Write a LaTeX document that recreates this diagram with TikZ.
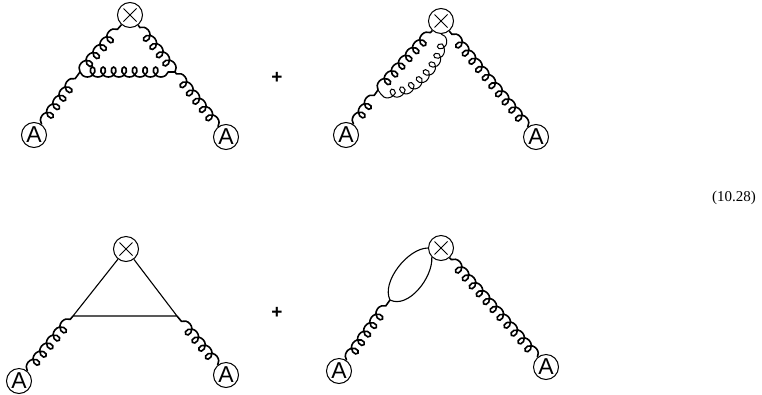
\documentclass[tikz,border=0pt]{standalone}
\usepackage{fontspec}
\setmainfont{Liberation Serif}
\newfontfamily\labelsans{Liberation Sans}
\usetikzlibrary{decorations.pathmorphing,calc}
\tikzset{
  px/.style={x=1pt,y=-1pt},
  xvertex/.style={circle,draw,line width=1pt,fill=white,minimum size=25pt,inner sep=0pt,
    path picture={\draw[line width=0.8pt]
      ($(path picture bounding box.center)+(-6.5pt,-6.5pt)$)--($(path picture bounding box.center)+(6.5pt,6.5pt)$)
      ($(path picture bounding box.center)+(-6.5pt,6.5pt)$)--($(path picture bounding box.center)+(6.5pt,-6.5pt)$);}},
  avertex/.style={circle,draw,line width=1pt,fill=white,minimum size=25pt,inner sep=0pt,font=\labelsans\fontsize{23}{23}\selectfont},
  gluon/.style={line width=1.6pt,decorate,decoration={coil,aspect=0.95,segment length=10.5pt,amplitude=5pt}},
  gluonm/.style={line width=1.6pt,decorate,decoration={coil,aspect=0.95,segment length=10.5pt,amplitude=5pt,mirror}},
  gluonthin/.style={line width=1pt,decorate,decoration={coil,aspect=0.95,segment length=10pt,amplitude=5pt}},
  prop/.style={line width=1.1pt},
  plus/.style={font=\labelsans\bfseries\fontsize{19}{19}\selectfont},
  eqno/.style={font=\fontsize{15}{15}\selectfont}
}
\begin{document}
\begin{tikzpicture}[px]
\useasboundingbox (0,0) rectangle (762,394);
% diagram 1
\coordinate (j1) at (80,72);
\coordinate (j2) at (175,72);
\node[xvertex] (x1) at (130,15) {};
\node[avertex] (a1) at (34,135) {A};
\node[avertex] (b1) at (226,137) {A};
\draw[gluon] (a1) -- (j1);
\draw[gluon] (j1) -- (x1);
\draw[gluonm] (b1) -- (j2);
\draw[gluonm] (j2) -- (x1);
\draw[gluonm] (j1) -- (j2);
% diagram 2
\coordinate (j3) at (378,90);
\node[xvertex] (x2) at (441,21) {};
\node[avertex] (a2) at (346,135) {A};
\node[avertex] (b2) at (536,137) {A};
\draw[gluon] (a2) -- (j3);
\draw[gluon] (j3) -- (x2);
\draw[gluonm] (b2) -- (x2);
\draw[gluonthin] (x2.south) .. controls (444,62) and (410,102) .. (j3);
% diagram 3
\coordinate (j4) at (73,316);
\coordinate (j5) at (177,316);
\node[xvertex] (x3) at (126,249) {};
\node[avertex] (a3) at (19,381) {A};
\node[avertex] (b3) at (226,375) {A};
\draw[gluon] (a3) -- (j4);
\draw[gluonm] (b3) -- (j5);
\draw[prop] (j4) -- (x3) (j5) -- (x3) (j4) -- (j5);
% diagram 4
\coordinate (j6) at (390,300);
\node[xvertex] (x4) at (441,248) {};
\node[avertex] (a4) at (339,371) {A};
\node[avertex] (b4) at (546,367) {A};
\draw[gluon] (a4) -- (j6);
\draw[gluonm] (b4) -- (x4);
\draw[prop] (j6) .. controls (381,282) and (408,248) .. (x4.west);
\draw[prop] (j6) .. controls (408,309) and (433,278) .. (x4.south west);
% plus signs and equation number
\node[plus] (p1) at (277,78) {+};
\node[plus] (p2) at (277,313) {+};
\node[eqno] (eq) at (734,198) {(10.28)};
\end{tikzpicture}
\end{document}
